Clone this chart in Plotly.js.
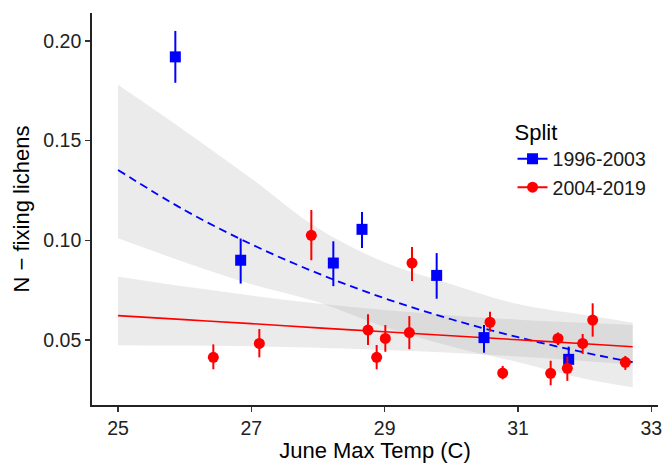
<!DOCTYPE html>
<html>
<head>
<meta charset="utf-8">
<script src="https://cdn.plot.ly/plotly-3.0.1.min.js"></script>
<style>html,body{margin:0;padding:0;background:#fff;}#chart{width:665px;height:463px;}</style>
</head>
<body>
<div id="chart"></div>
<script>
// Observed points, 1996-2003
var blueX  = [25.86, 26.84, 28.23, 28.66, 29.78, 30.49, 31.76];
var blueY  = [0.192, 0.090, 0.0886, 0.1055, 0.0824, 0.0512, 0.0403];
var blueLo = [0.179, 0.0783, 0.077, 0.0961, 0.0707, 0.0436, 0.034];
var blueHi = [0.205, 0.1009, 0.0995, 0.1142, 0.0936, 0.0575, 0.0467];

// Observed points, 2004-2019
var redX  = [26.43, 27.12, 27.90, 28.75, 28.88, 29.01, 29.37, 29.41, 30.58, 30.77, 31.49, 31.60, 31.74, 31.97, 32.12, 32.61];
var redY  = [0.0413, 0.0483, 0.1025, 0.055, 0.0413, 0.0508, 0.0537, 0.0886, 0.0589, 0.0334, 0.0333, 0.0508, 0.0358, 0.0483, 0.060, 0.0388];
var redLo = [0.0353, 0.0413, 0.090, 0.0475, 0.0353, 0.0441, 0.0454, 0.0796, 0.0541, 0.0303, 0.0273, 0.0475, 0.0295, 0.043, 0.0517, 0.035];
var redHi = [0.0478, 0.0555, 0.1152, 0.0629, 0.0475, 0.0575, 0.0620, 0.0966, 0.0642, 0.0370, 0.0396, 0.0537, 0.0417, 0.053, 0.0684, 0.042];

// Fitted curves and confidence bands
var fitX      = [25, 26, 27, 28, 29, 30, 31, 32, 32.72];
var blueFit   = [0.1353, 0.1151, 0.0980, 0.0834, 0.0709, 0.0604, 0.0514, 0.0437, 0.0389];
var blueBandHi= [0.178, 0.155, 0.131, 0.106, 0.089, 0.078, 0.068, 0.0625, 0.0587];
var blueBandLo= [0.101, 0.089, 0.078, 0.069, 0.0565, 0.0468, 0.0389, 0.0306, 0.0263];
var redFit    = [0.0622, 0.0602, 0.0582, 0.0561, 0.0541, 0.0521, 0.0501, 0.0481, 0.0466];
var redBandHi = [0.0817, 0.0768, 0.0723, 0.0683, 0.0650, 0.0623, 0.0602, 0.0586, 0.0575];
var redBandLo = [0.0474, 0.0472, 0.0469, 0.0461, 0.0450, 0.0436, 0.0417, 0.0395, 0.0377];

var seriesNames = ['1996-2003', '2004-2019'];
var xTicks = [25, 27, 29, 31, 33];
var yTicks = [0.05, 0.10, 0.15, 0.20];

function diff(a, b) { return a.map(function (v, i) { return v - b[i]; }); }

var band = 'rgba(153,153,153,0.2)';
var traces = [
  {x: fitX, y: blueBandLo, mode: 'lines', line: {width: 0, shape: 'spline'}, showlegend: false, hoverinfo: 'skip'},
  {x: fitX, y: blueBandHi, mode: 'lines', line: {width: 0, shape: 'spline'}, fill: 'tonexty', fillcolor: band, showlegend: false, hoverinfo: 'skip'},
  {x: fitX, y: redBandLo, mode: 'lines', line: {width: 0, shape: 'spline'}, showlegend: false, hoverinfo: 'skip'},
  {x: fitX, y: redBandHi, mode: 'lines', line: {width: 0, shape: 'spline'}, fill: 'tonexty', fillcolor: band, showlegend: false, hoverinfo: 'skip'},
  {x: fitX, y: blueFit, mode: 'lines', line: {color: '#0000FF', width: 1.8, dash: '8px,5px', shape: 'spline'}, showlegend: false},
  {x: fitX, y: redFit, mode: 'lines', line: {color: '#FF0000', width: 1.6, shape: 'spline'}, showlegend: false},
  {x: blueX, y: blueY, mode: 'markers', marker: {symbol: 'square', size: 11, color: '#0000FF'},
   error_y: {type: 'data', symmetric: false, array: diff(blueHi, blueY), arrayminus: diff(blueY, blueLo), width: 0, thickness: 2, color: '#0000FF'},
   showlegend: false},
  {x: redX, y: redY, mode: 'markers', marker: {symbol: 'circle', size: 11, color: '#FF0000'},
   error_y: {type: 'data', symmetric: false, array: diff(redHi, redY), arrayminus: diff(redY, redLo), width: 0, thickness: 2, color: '#FF0000'},
   showlegend: false},
  {x: [null], y: [null], name: seriesNames[0], mode: 'lines+markers', line: {color: '#0000FF', width: 2}, marker: {symbol: 'square', size: 11, color: '#0000FF'}},
  {x: [null], y: [null], name: seriesNames[1], mode: 'lines+markers', line: {color: '#FF0000', width: 2}, marker: {symbol: 'circle', size: 11, color: '#FF0000'}}
];

var font = 'Liberation Sans, Arial, sans-serif';
var layout = {
  width: 665, height: 463,
  margin: {l: 92, r: 7, t: 13, b: 58},
  paper_bgcolor: '#fff', plot_bgcolor: '#fff',
  font: {family: font, color: '#1a1a1a'},
  showlegend: true,
  legend: {
    x: 0.743, y: 0.75, xanchor: 'left', yanchor: 'top',
    traceorder: 'normal',
    title: {text: 'Split', font: {size: 22, color: '#000'}},
    font: {size: 19.5, color: '#1a1a1a'},
    itemwidth: 30, bgcolor: 'rgba(0,0,0,0)', tracegroupgap: 0
  },
  xaxis: {
    range: [24.61, 33.1], tickvals: xTicks, ticktext: xTicks.map(String),
    showline: true, linecolor: '#222', linewidth: 1.8, mirror: false,
    ticks: 'outside', ticklen: 5, tickwidth: 1.5, tickcolor: '#333',
    showgrid: false, zeroline: false,
    tickfont: {size: 19.5, color: '#222'},
    title: {text: 'June Max Temp (C)', font: {size: 22, color: '#000'}, standoff: 5}
  },
  yaxis: {
    range: [0.0174, 0.214], tickvals: yTicks, ticktext: yTicks.map(function (v) { return v.toFixed(2); }),
    showline: true, linecolor: '#222', linewidth: 1.8, mirror: false,
    ticks: 'outside', ticklen: 5, tickwidth: 1.5, tickcolor: '#333',
    showgrid: false, zeroline: false,
    tickfont: {size: 19.5, color: '#222'},
    title: {text: 'N − fixing lichens', font: {size: 22, color: '#000'}, standoff: 8}
  }
};

Plotly.newPlot('chart', traces, layout, {displayModeBar: false, staticPlot: true});
</script>
</body>
</html>
